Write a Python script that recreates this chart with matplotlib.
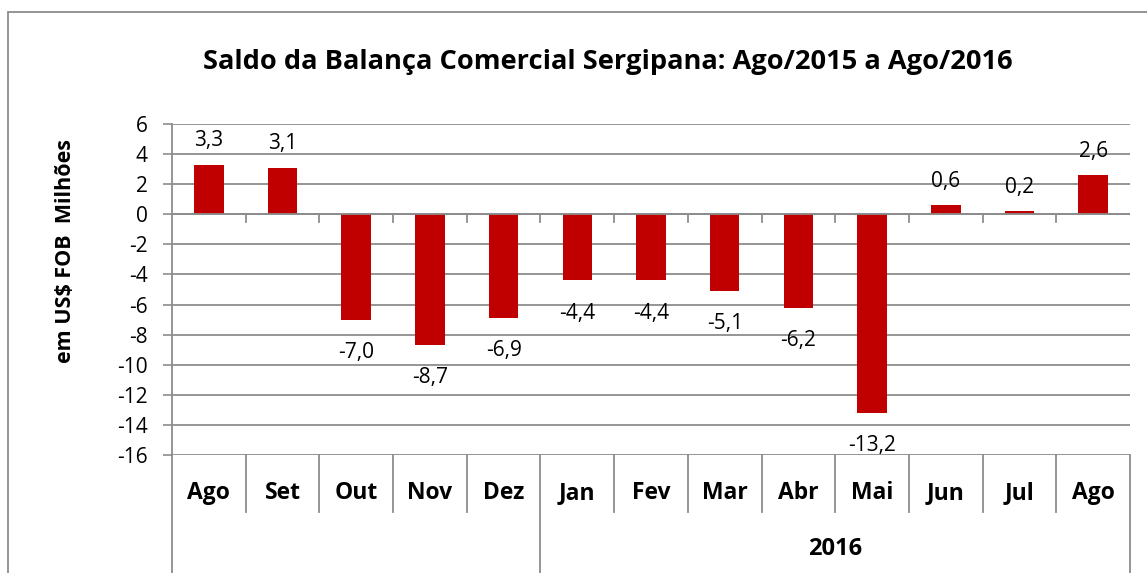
import matplotlib
matplotlib.use("Agg")
import matplotlib.pyplot as plt
import matplotlib.transforms as mtransforms
from matplotlib.patches import Rectangle

months = ["Ago", "Set", "Out", "Nov", "Dez", "Jan", "Fev", "Mar", "Abr", "Mai", "Jun", "Jul", "Ago"]
saldo = [3.3, 3.1, -7.0, -8.7, -6.9, -4.4, -4.4, -5.1, -6.2, -13.2, 0.6, 0.2, 2.6]
year_label = "2016"
year_start = 5  # index of Jan

plt.rcParams["font.family"] = ["Open Sans", "DejaVu Sans"]
plt.rcParams["axes.unicode_minus"] = False

gray = "#8c8c8c"
red = "#c00000"

fig = plt.figure(figsize=(11.47, 5.73), dpi=100)
ax = fig.add_axes([172 / 1147, 1 - 455 / 573, (1130 - 172) / 1147, 331 / 573])

x = list(range(len(months)))
ax.bar(x, saldo, width=0.4, color=red, zorder=3)

for xi, v in zip(x, saldo):
    txt = f"{v:.1f}".replace(".", ",")
    if v >= 0:
        ax.annotate(txt, (xi, v), xytext=(0, 9.5), textcoords="offset points",
                    ha="center", va="bottom", fontsize=15)
    else:
        ax.annotate(txt, (xi, v), xytext=(0, -16), textcoords="offset points",
                    ha="center", va="top", fontsize=15)

ax.set_xlim(-0.5, len(months) - 0.5)
ax.set_ylim(-16, 6)
ax.set_yticks(range(-16, 7, 2))
ax.tick_params(axis="y", length=6.5, width=1.2, color=gray, labelsize=15, pad=11)
ax.set_xticks([])
ax.grid(axis="y", color=gray, lw=1.3, zorder=1)
ax.set_axisbelow(True)
for s in ["top", "right", "bottom"]:
    ax.spines[s].set_visible(False)
ax.spines["left"].set_color(gray)
ax.spines["left"].set_linewidth(1.3)

# zero line with ticks at category boundaries
ax.axhline(0, color=gray, lw=1.3, zorder=4)
for b in x[:-1]:
    ax.plot([b + 0.5, b + 0.5], [0, -0.5], color=gray, lw=1.3, zorder=4)

# multi-level category axis
trans = mtransforms.blended_transform_factory(ax.transData, ax.transAxes)
for b in range(len(months) + 1):
    bx = b - 0.5
    bottom = -0.36 if b in (0, year_start, len(months)) else -0.172
    ax.plot([bx, bx], [0, bottom], color=gray, lw=1.3, transform=trans, clip_on=False)
for xi, m in zip(x, months):
    ax.text(xi, -0.115, m, transform=trans, ha="center", va="center",
            fontsize=16.5, fontweight="bold")
ax.text((year_start - 0.5 + len(months) - 0.5) / 2, -0.285, year_label, transform=trans,
        ha="center", va="center", fontsize=17, fontweight="bold")

ax.text(-0.111, 0.616, "em US$ FOB  Milhões", transform=ax.transAxes, rotation=90,
        ha="center", va="center", fontsize=15.5, fontweight="bold")

fig.text(608 / 1147, 1 - 62 / 573, "Saldo da Balança Comercial Sergipana: Ago/2015 a Ago/2016",
         ha="center", va="center", fontsize=19.6, fontweight="bold")

# chart area border
fig.patches.append(Rectangle((8 / 1147, -0.1), 1.1, 1.1 - 12 / 573, transform=fig.transFigure,
                             fill=False, edgecolor=gray, lw=1.3))

fig.savefig("out.png", dpi=100)
